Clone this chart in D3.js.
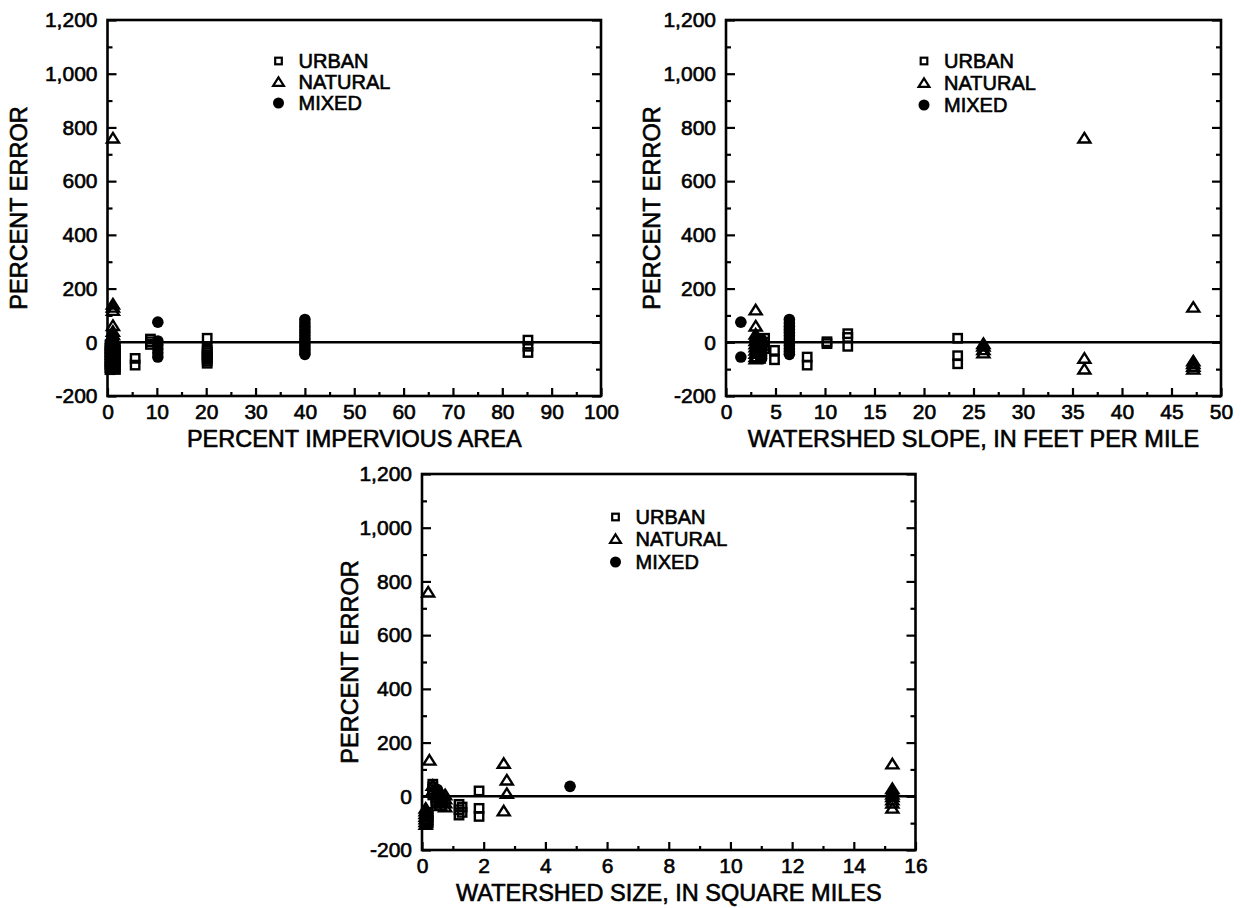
<!DOCTYPE html>
<html>
<head>
<meta charset="utf-8">
<script src="https://cdn.jsdelivr.net/npm/d3@7"></script>
<style>
  body { margin: 0; background: #fff; }
  text { font-family: "Liberation Sans", Arial, Helvetica, sans-serif; fill: #000; }
</style>
</head>
<body>
<svg id="fig" width="1241" height="908"></svg>
<script>
// Percent error axis (shared by all three panels)
const errorTickValues = [-200, 0, 200, 400, 600, 800, 1000, 1200];
const errorTickLabels = ["-200", "0", "200", "400", "600", "800", "1,000", "1,200"];

// X-axis ticks per panel
const imperviousTicks = [0, 10, 20, 30, 40, 50, 60, 70, 80, 90, 100];
const slopeTicks = [0, 5, 10, 15, 20, 25, 30, 35, 40, 45, 50];
const sizeTicks = [0, 2, 4, 6, 8, 10, 12, 14, 16];

const legendLabels = ["URBAN", "NATURAL", "MIXED"];

// [x, percent error] pairs — percent impervious area
const urbanByImpervious = [
  [0.5, -10], [0.5, -22], [0.5, -34], [0.5, -46], [0.5, -58], [0.5, -70], [0.5, -82], [0.5, -94], [0.5, -102],
  [1.6, -15], [1.6, -30], [1.6, -45], [1.6, -60], [1.6, -75], [1.6, -90], [1.6, -100],
  [5.6, -60], [5.6, -85],
  [8.7, 12], [8.7, 2], [8.7, -8],
  [20.2, 15], [20.2, -22], [20.2, -30], [20.2, -38], [20.2, -46], [20.2, -54], [20.2, -62], [20.2, -70], [20.2, -78],
  [85.2, 8], [85.2, -15], [85.2, -38]
];
const naturalByImpervious = [
  [1.1, 760], [1.1, 142], [1.1, 130], [1.1, 118], [1.1, 62], [1.1, 40], [1.1, 28], [1.1, 16], [1.1, 4],
  [1.1, -8], [1.1, -20], [1.1, -32], [1.1, -44], [1.1, -56], [1.1, -68], [1.1, -80], [1.1, -92], [1.1, -100]
];
const mixedByImpervious = [
  [10.2, 75], [10.2, 5], [10.2, -10], [10.2, -25], [10.2, -40], [10.2, -55],
  [40, 85], [40, 72], [40, 60], [40, 48], [40, 36], [40, 25], [40, 14], [40, 4],
  [40, -6], [40, -16], [40, -26], [40, -36], [40, -45]
];

// Watershed slope, feet per mile
const urbanBySlope = [
  [3.5, -35], [3.5, -50], [3.5, -60],
  [3.9, 15], [3.9, 0], [3.9, -12], [3.9, -24],
  [4.9, -30], [4.9, -65],
  [8.2, -55], [8.2, -85],
  [10.2, 2], [10.2, -5],
  [12.3, 32], [12.3, 18], [12.3, -15],
  [23.4, 15], [23.4, -50], [23.4, -80]
];
const naturalBySlope = [
  [3.0, 120], [3.0, 60], [3.0, 30], [3.0, 18], [3.0, 6], [3.0, -6], [3.0, -18], [3.0, -30],
  [3.0, -42], [3.0, -54], [3.0, -62],
  [26, -5], [26, -15], [26, -28], [26, -40],
  [36.2, 760], [36.2, -60], [36.2, -100],
  [47.2, 130], [47.2, -70], [47.2, -80], [47.2, -90], [47.2, -100]
];
const mixedBySlope = [
  [1.5, 75], [1.5, -55],
  [3.3, 0], [3.3, -25], [3.3, -45],
  [3.6, 10], [3.6, -5], [3.6, -20], [3.6, -35], [3.6, -50], [3.6, -60],
  [6.4, 85], [6.4, 72], [6.4, 60], [6.4, 48], [6.4, 36], [6.4, 24], [6.4, 12],
  [6.4, 0], [6.4, -12], [6.4, -24], [6.4, -35], [6.4, -45]
];

// Watershed size, square miles
const urbanBySize = [
  [0.35, 45], [0.35, 35], [0.35, 25], [0.35, 15], [0.35, 5],
  [0.45, -5], [0.45, -15], [0.45, -25],
  [0.2, -60], [0.2, -75], [0.2, -90], [0.2, -100],
  [1.2, -30], [1.2, -50], [1.2, -70], [1.3, -40], [1.3, -60],
  [1.85, 20], [1.85, -45], [1.85, -75]
];
const naturalBySize = [
  [0.2, 760], [0.24, 134],
  [0.12, -45], [0.12, -55], [0.12, -65], [0.12, -75], [0.12, -85], [0.12, -95], [0.12, -105],
  [0.35, 40], [0.35, 20],
  [0.6, 15], [0.6, 5], [0.6, -5], [0.6, -15], [0.6, -25], [0.6, -35],
  [0.75, 5], [0.75, -10], [0.75, -25], [0.75, -40],
  [2.65, 122], [2.65, -55], [2.75, 60], [2.75, 10],
  [15.25, 120], [15.25, 28], [15.25, 18], [15.25, 8], [15.25, -2], [15.25, -14], [15.25, -26], [15.25, -45]
];
const mixedBySize = [[4.8, 37], [0.5, 25], [0.5, 0]];

const svg = d3.select("#fig");
svg.append("rect").attr("width", 1241).attr("height", 908).attr("fill", "#fff");

const INK = "#000";
const TEXT_STROKE = 0.6;
const triPath = "M0,-5.2 L6,4.3 L-6,4.3 Z";
const triLegend = "M0,-4.6 L5.4,3.9 L-5.4,3.9 Z";

function drawMarkers(g, data, kind, x, y) {
  if (kind === "urban") {
    g.selectAll(null).data(data).join("rect")
      .attr("x", d => x(d[0]) - 4.2).attr("y", d => y(d[1]) - 4.2)
      .attr("width", 8.4).attr("height", 8.4)
      .attr("fill", "none").attr("stroke", INK).attr("stroke-width", 2.4);
  } else if (kind === "natural") {
    g.selectAll(null).data(data).join("path")
      .attr("d", triPath)
      .attr("transform", d => `translate(${x(d[0])},${y(d[1])})`)
      .attr("fill", "none").attr("stroke", INK).attr("stroke-width", 2.4)
      .attr("stroke-linejoin", "miter");
  } else {
    g.selectAll(null).data(data).join("circle")
      .attr("cx", d => x(d[0])).attr("cy", d => y(d[1])).attr("r", 5.8)
      .attr("fill", INK);
  }
}

function drawPanel(cfg) {
  const x = d3.scaleLinear().domain(cfg.xDomain).range([cfg.left, cfg.right]);
  const y = d3.scaleLinear().domain([-200, 1200]).range([cfg.bottom, cfg.top]);
  const g = svg.append("g");

  const fmtY = d => errorTickLabels[errorTickValues.indexOf(d)];
  const yMinor = d3.range(-100, 1200, 200);

  // left axis: labelled major ticks + minor ticks, pointing inward
  const left = g.append("g").attr("transform", `translate(${cfg.left},0)`);
  left.call(d3.axisLeft(y).tickValues(errorTickValues).tickSize(-9).tickPadding(10).tickFormat(fmtY));
  left.append("g").call(d3.axisLeft(y).tickValues(yMinor).tickSize(-5).tickFormat(""));

  // right axis: ticks only
  const right = g.append("g").attr("transform", `translate(${cfg.right},0)`);
  right.call(d3.axisRight(y).tickValues(errorTickValues).tickSize(-9).tickFormat(""));
  right.append("g").call(d3.axisRight(y).tickValues(yMinor).tickSize(-5).tickFormat(""));

  // bottom axis
  const bottom = g.append("g").attr("transform", `translate(0,${cfg.bottom})`);
  bottom.call(d3.axisBottom(x).tickValues(cfg.xTicks).tickSize(-8).tickPadding(8).tickFormat(d3.format("d")));
  bottom.append("g").call(d3.axisBottom(x).tickValues(cfg.xMinor).tickSize(-4).tickFormat(""));

  g.selectAll(".domain").remove();
  g.selectAll(".tick line").attr("stroke", INK).attr("stroke-width", 2.2);
  g.selectAll(".tick text")
    .style("font-family", '"Liberation Sans", Arial, sans-serif')
    .attr("font-size", 21).attr("fill", INK)
    .attr("stroke", INK).attr("stroke-width", TEXT_STROKE);

  // frame
  g.append("rect")
    .attr("x", cfg.left).attr("y", cfg.top)
    .attr("width", cfg.right - cfg.left).attr("height", cfg.bottom - cfg.top)
    .attr("fill", "none").attr("stroke", INK).attr("stroke-width", 2.6);

  // zero-error reference line
  g.append("line")
    .attr("x1", x(cfg.xDomain[0])).attr("x2", x(cfg.xDomain[1]))
    .attr("y1", y(0)).attr("y2", y(0))
    .attr("stroke", INK).attr("stroke-width", 2.6);

  // data
  const pts = g.append("g");
  drawMarkers(pts, cfg.urban, "urban", x, y);
  drawMarkers(pts, cfg.natural, "natural", x, y);
  drawMarkers(pts, cfg.mixed, "mixed", x, y);

  // legend
  const lg = g.append("g");
  cfg.legendRows.forEach((ry, i) => {
    const my = cfg.top + ry;
    if (i === 0) {
      lg.append("rect").attr("x", cfg.legendX - 3.3).attr("y", my - 3.3)
        .attr("width", 6.6).attr("height", 6.6)
        .attr("fill", "none").attr("stroke", INK).attr("stroke-width", 2.2);
    } else if (i === 1) {
      lg.append("path").attr("d", triLegend)
        .attr("transform", `translate(${cfg.legendX},${my})`)
        .attr("fill", "none").attr("stroke", INK).attr("stroke-width", 2.2);
    } else {
      lg.append("circle").attr("cx", cfg.legendX).attr("cy", my).attr("r", 5.5).attr("fill", INK);
    }
    lg.append("text").attr("x", cfg.legendX + 20).attr("y", my + 7.2)
      .attr("font-size", 20).attr("stroke", INK).attr("stroke-width", TEXT_STROKE)
      .text(legendLabels[i]);
  });

  // axis titles
  g.append("text")
    .attr("x", (cfg.left + cfg.right) / 2).attr("y", cfg.bottom + 51)
    .attr("text-anchor", "middle").attr("font-size", 23.5)
    .attr("stroke", INK).attr("stroke-width", TEXT_STROKE)
    .text(cfg.xTitle);
  g.append("text")
    .attr("transform", `translate(${cfg.yTitleX},${(cfg.top + cfg.bottom) / 2}) rotate(-90)`)
    .attr("text-anchor", "middle").attr("font-size", 23.5)
    .attr("stroke", INK).attr("stroke-width", TEXT_STROKE)
    .text("PERCENT ERROR");
}

drawPanel({
  left: 107.5, right: 601, top: 20, bottom: 396,
  xDomain: [0, 100], xTicks: imperviousTicks, xMinor: d3.range(5, 100, 10),
  urban: urbanByImpervious, natural: naturalByImpervious, mixed: mixedByImpervious,
  legendX: 278.5, legendRows: [41, 62, 83],
  xTitle: "PERCENT IMPERVIOUS AREA", yTitleX: 27
});

drawPanel({
  left: 726, right: 1221, top: 20, bottom: 396,
  xDomain: [0, 50], xTicks: slopeTicks, xMinor: d3.range(2.5, 50, 5),
  urban: urbanBySlope, natural: naturalBySlope, mixed: mixedBySlope,
  legendX: 924, legendRows: [41, 63, 85],
  xTitle: "WATERSHED SLOPE, IN FEET PER MILE", yTitleX: 660
});

drawPanel({
  left: 422, right: 915.5, top: 474, bottom: 850,
  xDomain: [0, 16], xTicks: sizeTicks, xMinor: d3.range(1, 16, 2),
  urban: urbanBySize, natural: naturalBySize, mixed: mixedBySize,
  legendX: 615.5, legendRows: [43, 65, 88],
  xTitle: "WATERSHED SIZE, IN SQUARE MILES", yTitleX: 358
});
</script>
</body>
</html>
